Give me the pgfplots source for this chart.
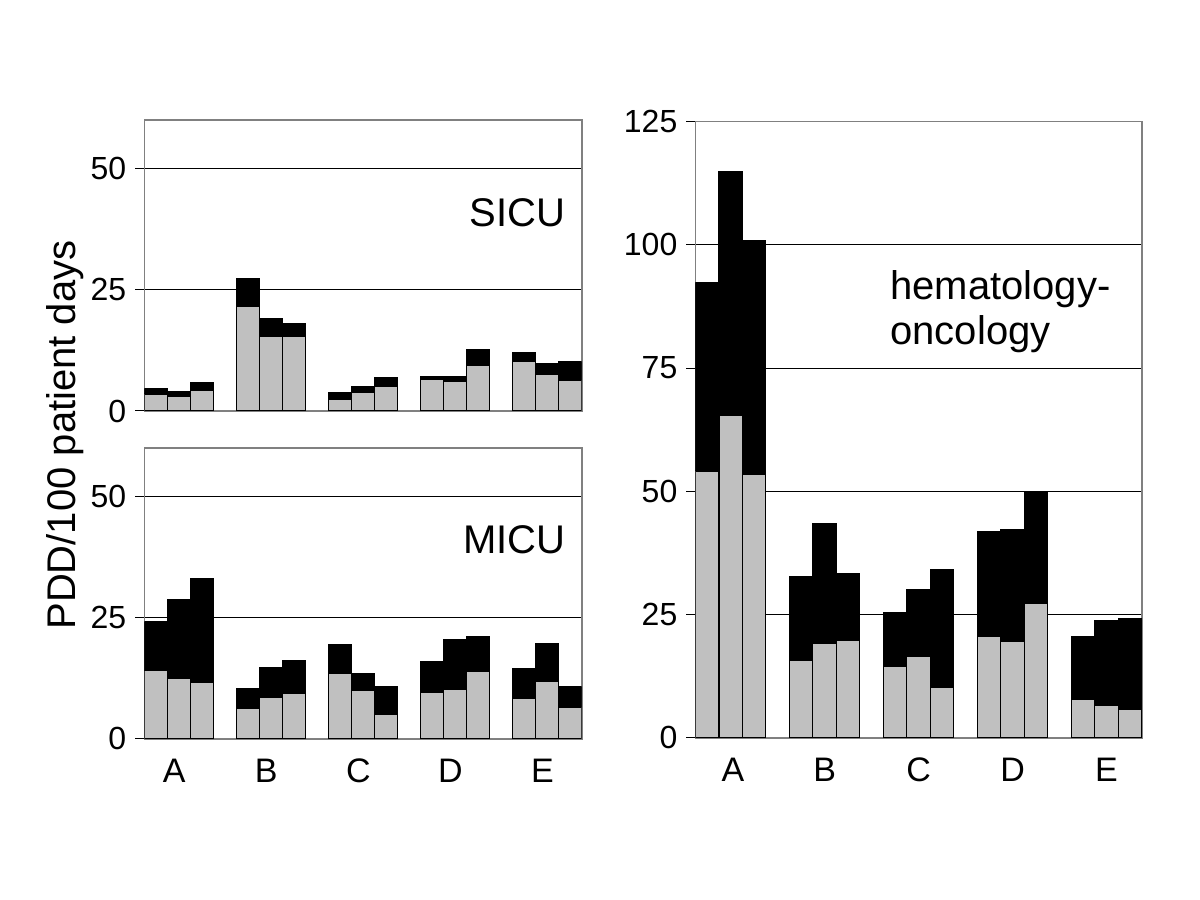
\documentclass[border=0pt]{standalone}
\usepackage{fontspec}
\setmainfont{Liberation Sans}
\usepackage{pgfplots}
\pgfplotsset{compat=1.18}
\usepackage{pgfplotstable}
\definecolor{barsilver}{RGB}{192,192,192}
\definecolor{framegray}{RGB}{128,128,128}

\pgfplotstableread{
x gray black
0 3.5 1.1
1 3.1 1.0
2 4.3 1.6
4 21.5 5.9
5 15.4 3.7
6 15.3 2.8
8 2.3 1.4
9 3.8 1.2
10 5.0 1.8
12 6.5 0.6
13 6.2 0.9
14 9.5 3.2
16 10.2 1.9
17 7.6 2.2
18 6.3 3.9
}\sicu

\pgfplotstableread{
x gray black
0 14.0 10.1
1 12.5 16.2
2 11.6 21.5
4 6.2 4.2
5 8.5 6.1
6 9.4 6.8
8 13.4 6.1
9 9.9 3.6
10 5.0 5.7
12 9.5 6.5
13 10.2 10.2
14 13.8 7.2
16 8.3 6.1
17 11.9 7.8
18 6.5 4.2
}\micu

\pgfplotstableread{
x gray black
0 54.1 38.3
1 65.4 49.5
2 53.5 47.3
4 15.7 17.0
5 19.2 24.2
6 19.8 13.4
8 14.5 10.9
9 16.4 13.7
10 10.3 23.8
12 20.5 21.3
13 19.5 22.7
14 27.3 22.7
16 7.8 12.7
17 6.6 17.2
18 5.8 18.3
}\hemonc

\pgfplotsset{
  panel/.style={
    scale only axis,
    ybar stacked,
    bar width=1,
    xmin=-0.5, xmax=18.5,
    ymin=0,
    axis line style={draw=framegray, line width=0.8pt},
    ymajorgrids,
    grid style={black, line width=0.5pt},
    ytick pos=left,
    tick align=outside,
    major tick length=4.5pt,
    ytick style={black, line width=0.5pt},
    xtick style={draw=none},
    yticklabel style={font=\fontsize{16}{19}\selectfont, xshift=-1pt},
    xticklabel style={font=\fontsize{17}{20}\selectfont, anchor=base, yshift=-17.5pt},
    /pgf/number format/assume math mode=true,
  },
  grayser/.style={fill=barsilver, draw=black, line width=0.6pt},
  blackser/.style={fill=black, draw=black, line width=0.6pt},
}

\begin{document}
\begin{tikzpicture}
\useasboundingbox (0,0) rectangle (600pt,450pt);

% SICU
\begin{axis}[panel,
  at={(72.15pt,244.5pt)}, anchor=south west,
  width=218.7pt, height=145.5pt,
  ymax=60, ytick={0,25,50},
  xtick=\empty]
\addplot[grayser] table[x=x,y=gray]{\sicu};
\addplot[blackser] table[x=x,y=black]{\sicu};
\end{axis}

% MICU
\begin{axis}[panel,
  at={(72.15pt,80.6pt)}, anchor=south west,
  width=218.7pt, height=145.5pt,
  ymax=60, ytick={0,25,50},
  xtick={0.8,4.8,8.8,12.8,16.8}, xticklabels={A,B,C,D,E}]
\addplot[grayser] table[x=x,y=gray]{\micu};
\addplot[blackser] table[x=x,y=black]{\micu};
\end{axis}

% hematology-oncology
\begin{axis}[panel,
  at={(347.7pt,81.15pt)}, anchor=south west,
  width=223.2pt, height=308pt,
  ymax=125, ytick={0,25,...,125},
  xtick={1.1,5,9,13,17}, xticklabels={A,B,C,D,E}]
\addplot[grayser] table[x=x,y=gray]{\hemonc};
\addplot[blackser] table[x=x,y=black]{\hemonc};
\end{axis}

\node[anchor=base west, inner sep=0, font=\fontsize{20}{24}\selectfont] at (234.5pt,336.6pt) {SICU};
\node[anchor=base west, inner sep=0, font=\fontsize{20}{24}\selectfont] at (231.5pt,173pt) {MICU};
\node[anchor=base west, inner sep=0, font=\fontsize{20}{24}\selectfont] at (445pt,300pt) {hematology-};
\node[anchor=base west, inner sep=0, font=\fontsize{20}{24}\selectfont] at (445pt,277.5pt) {oncology};
\node[anchor=base west, inner sep=0, rotate=90, font=\fontsize{20}{24}\selectfont] at (37.5pt,135pt) {PDD/100 patient days};
\end{tikzpicture}
\end{document}
